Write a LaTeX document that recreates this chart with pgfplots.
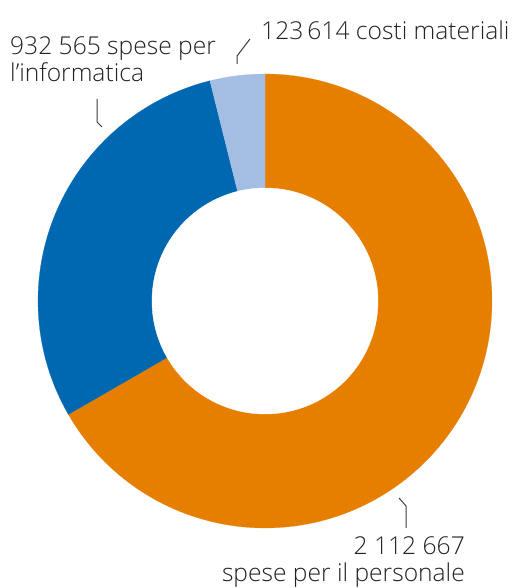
\documentclass[border=0pt]{standalone}
\usepackage{pgfplots}
\pgfplotsset{compat=1.18}
\usepackage{fontspec}
\IfFontExistsTF{Open Sans Light}{\setmainfont{Open Sans Light}}{\setmainfont{Open Sans}}
\definecolor{cOrange}{HTML}{E67E00}
\definecolor{cBlue}{HTML}{0067B1}
\definecolor{cLight}{HTML}{A3BDE3}
\definecolor{cText}{HTML}{1E2328}
\definecolor{cLine}{HTML}{3A3A3A}
% values
\def\vA{2112667} % spese per il personale
\def\vB{932565}  % spese per l'informatica
\def\vC{123614}  % costi materiali
\edef\tot{\fpeval{\vA+\vB+\vC}}
\edef\aA{\fpeval{90-360*\vA/\tot}}
\edef\aB{\fpeval{90-360*(\vA+\vB)/\tot}}
\edef\aC{\fpeval{90-360}}
\begin{document}
\begin{tikzpicture}
\begin{axis}[
  width=519pt, height=588pt, scale only axis,
  xmin=0, xmax=519, ymin=0, ymax=588,
  hide axis, clip=false,
]
\path (axis cs:0,0) -- (axis cs:519,588);
\addplot[fill=cOrange, draw=cOrange, line width=0.2pt, domain=\aA:90, samples=160, variable=\t]
  ({265+227*cos(\t)},{287+227*sin(\t)}) -- (axis cs:265,287) -- cycle;
\addplot[fill=cBlue, draw=cBlue, line width=0.2pt, domain=\aB:\aA, samples=100, variable=\t]
  ({265+227*cos(\t)},{287+227*sin(\t)}) -- (axis cs:265,287) -- cycle;
\addplot[fill=cLight, draw=cLight, line width=0.2pt, domain=\aC:\aB, samples=30, variable=\t]
  ({265+227*cos(\t)},{287+227*sin(\t)}) -- (axis cs:265,287) -- cycle;
\addplot[fill=white, draw=white, domain=0:360, samples=160, variable=\t]
  ({265+113*cos(\t)},{287+113*sin(\t)}) -- cycle;
% leader lines
\draw[cLine, line width=1pt] (axis cs:237,524) -- (axis cs:237,532) -- (axis cs:250,549);
\draw[cLine, line width=1pt] (axis cs:97,489) -- (axis cs:97,466) -- (axis cs:102,461);
\draw[cLine, line width=1pt] (axis cs:399,90) -- (axis cs:406,82) -- (axis cs:406,60);
% labels
\node[anchor=base west, text=cText, font=\fontsize{24.6}{27}\selectfont, inner sep=0pt] at (axis cs:261,548) {123\,614 costi materiali};
\node[anchor=base west, text=cText, font=\fontsize{24.6}{27}\selectfont, inner sep=0pt] at (axis cs:10,533) {932 565 spese per};
\node[anchor=base west, text=cText, font=\fontsize{24.6}{27}\selectfont, inner sep=0pt] at (axis cs:10,506) {l’informatica};
\node[anchor=base east, text=cText, font=\fontsize{24.6}{27}\selectfont, inner sep=0pt] at (axis cs:465,33) {2 112 667};
\node[anchor=base east, text=cText, font=\fontsize{24.6}{27}\selectfont, inner sep=0pt] at (axis cs:465,6) {spese per il personale};
\end{axis}
\end{tikzpicture}
\end{document}
